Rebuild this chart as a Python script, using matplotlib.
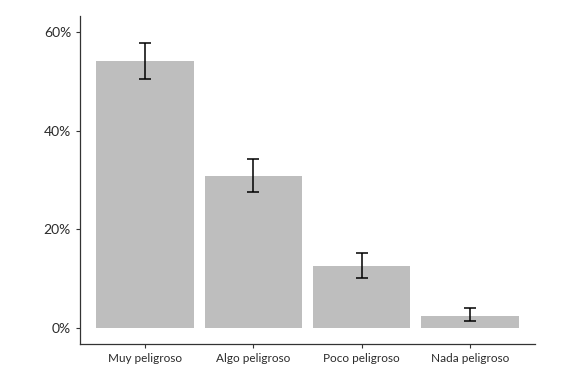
import matplotlib
matplotlib.use("Agg")
import matplotlib.pyplot as plt
from matplotlib.ticker import FuncFormatter

# === Data ===
categories = ["Muy peligroso", "Algo peligroso", "Poco peligroso", "Nada peligroso"]
values = [54.1, 30.7, 12.5, 2.4]
err_low = [50.5, 27.6, 10.2, 1.5]
err_high = [57.7, 34.2, 15.2, 4.0]

plt.rcParams["font.family"] = ["Lato", "DejaVu Sans"]

fig = plt.figure(figsize=(5.8, 3.72), dpi=100)
ax = fig.add_axes([0.138, 0.0753, 0.784, 0.882])

x = list(range(1, len(categories) + 1))
ax.bar(x, values, width=0.9, color="#bebebe", zorder=1)

yerr = [[v - lo for v, lo in zip(values, err_low)],
        [hi - v for v, hi in zip(values, err_high)]]
ax.errorbar(x, values, yerr=yerr, fmt="none", ecolor="black",
            elinewidth=1.1, capsize=4, capthick=1.1, zorder=2)

ax.set_xlim(0.4, 4.6)
ax.set_ylim(-3.2, 63.2)
ax.set_xticks(x)
ax.set_xticklabels(categories)
ax.set_yticks([0, 20, 40, 60])
ax.yaxis.set_major_formatter(FuncFormatter(lambda v, p: f"{v:.0f}%"))

for side in ["top", "right"]:
    ax.spines[side].set_visible(False)
for side in ["left", "bottom"]:
    ax.spines[side].set_color("#333333")
    ax.spines[side].set_linewidth(0.9)

ax.tick_params(axis="both", length=3, width=0.8, color="#333333",
               labelcolor="#2b2b2b")
ax.tick_params(axis="x", labelsize=8.5)
ax.tick_params(axis="y", labelsize=10)

fig.savefig("out.png", dpi=100)
